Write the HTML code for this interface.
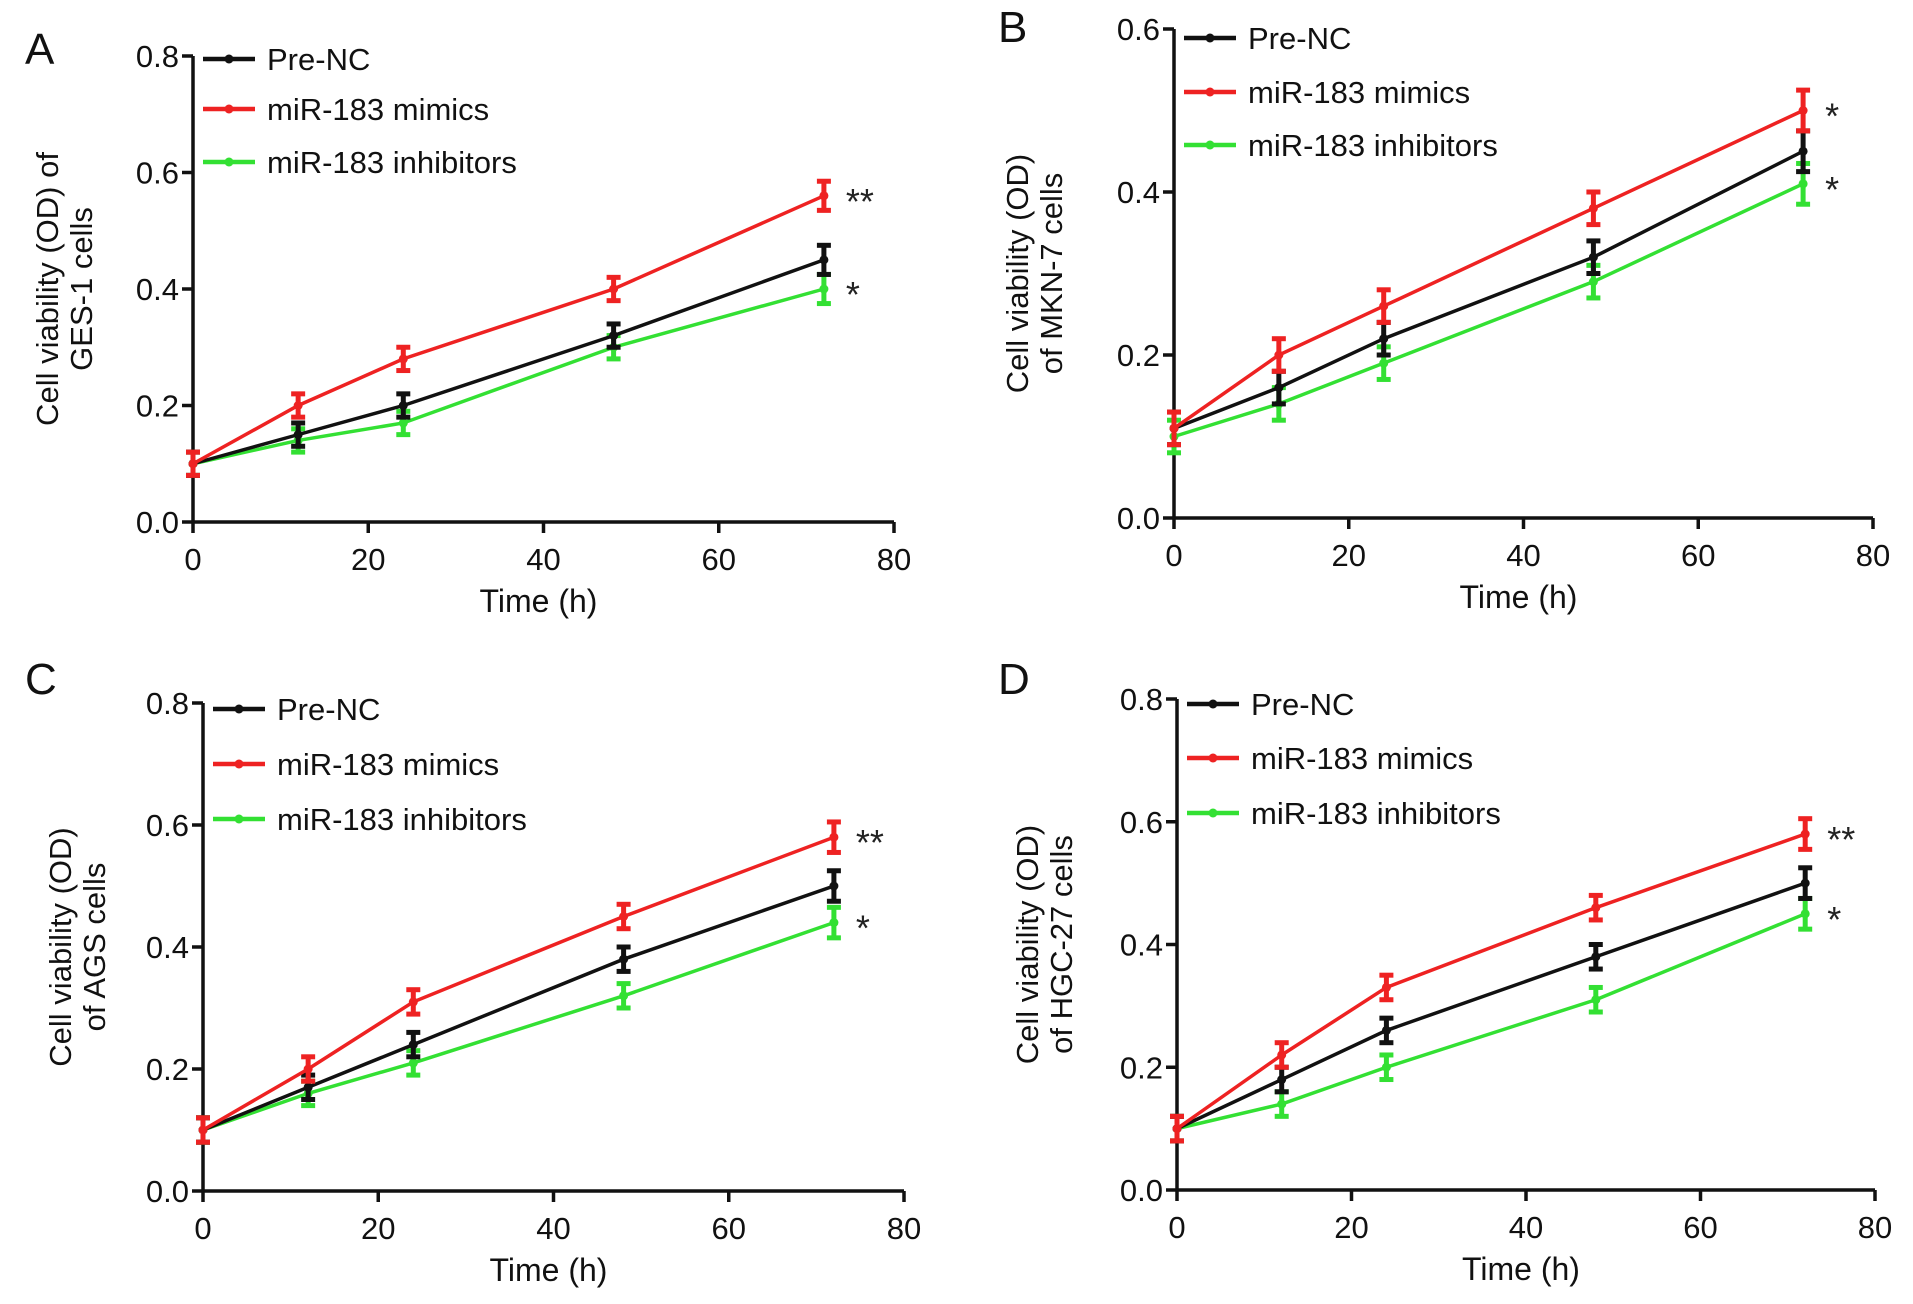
<!DOCTYPE html>
<html><head><meta charset="utf-8"><style>
html,body{margin:0;padding:0;background:#fff;}
svg{display:block;font-family:"Liberation Sans",Arial,sans-serif;}
</style></head><body>
<svg id="fig" width="1913" height="1304" viewBox="0 0 1913 1304"></svg>
<script>
const times = [0, 12, 24, 48, 72];
const xTicks = [0, 20, 40, 60, 80];
const seriesNames = ["Pre-NC", "miR-183 mimics", "miR-183 inhibitors"];
const seriesColors = ["#111111", "#ee2222", "#33e033"];
const aBlack = [0.10, 0.15, 0.20, 0.32, 0.45];
const aRed = [0.10, 0.20, 0.28, 0.40, 0.56];
const aGreen = [0.10, 0.14, 0.17, 0.30, 0.40];
const bBlack = [0.11, 0.16, 0.22, 0.32, 0.45];
const bRed = [0.11, 0.20, 0.26, 0.38, 0.50];
const bGreen = [0.10, 0.14, 0.19, 0.29, 0.41];
const cBlack = [0.10, 0.17, 0.24, 0.38, 0.50];
const cRed = [0.10, 0.20, 0.31, 0.45, 0.58];
const cGreen = [0.10, 0.16, 0.21, 0.32, 0.44];
const dBlack = [0.10, 0.18, 0.26, 0.38, 0.50];
const dRed = [0.10, 0.22, 0.33, 0.46, 0.58];
const dGreen = [0.10, 0.14, 0.20, 0.31, 0.45];
const errA = [0.02, 0.02, 0.02, 0.02, 0.025];
const yTicks8 = [0.0, 0.2, 0.4, 0.6, 0.8];
const yTicks6 = [0.0, 0.2, 0.4, 0.6];
const starsA = ["**", "*"], starsB = ["*", "*"], starsC = ["**", "*"], starsD = ["**", "*"];

const NS = "http://www.w3.org/2000/svg";
const svg = document.getElementById("fig");
function mk(tag, attrs, parent, text) {
  const e = document.createElementNS(NS, tag);
  for (const k in attrs) e.setAttribute(k, attrs[k]);
  if (text !== undefined) e.textContent = text;
  (parent || svg).appendChild(e);
  return e;
}

const panels = [
  {id:"a", letter:"A", lx:25, ly:64, x0:193, x1:894, y0:522, yTop:56, yMax:0.8, yt:yTicks8, data:[aBlack,aRed,aGreen], stars:starsA, title:["Cell viability (OD) of","GES-1 cells"], tx:58, legY:[59,109,162]},
  {id:"b", letter:"B", lx:998, ly:42, x0:1174, x1:1873, y0:518, yTop:29, yMax:0.6, yt:yTicks6, data:[bBlack,bRed,bGreen], stars:starsB, title:["Cell viability (OD)","of MKN-7 cells"], tx:1028, legY:[38,92,145]},
  {id:"c", letter:"C", lx:25, ly:694, x0:203, x1:904, y0:1191, yTop:703, yMax:0.8, yt:yTicks8, data:[cBlack,cRed,cGreen], stars:starsC, title:["Cell viability (OD)","of AGS cells"], tx:71, legY:[709,764,819]},
  {id:"d", letter:"D", lx:998, ly:694, x0:1177, x1:1875, y0:1190, yTop:699, yMax:0.8, yt:yTicks8, data:[dBlack,dRed,dGreen], stars:starsD, title:["Cell viability (OD)","of HGC-27 cells"], tx:1038, legY:[704,758,813]}
];

panels.forEach(p => {
  const g = mk("g", {});
  
  
  const X = v => p.x0 + (v / 80) * (p.x1 - p.x0);
  const Y = v => p.y0 - (v / p.yMax) * (p.y0 - p.yTop);
  const lt = mk("text", {x:p.lx, y:p.ly, "font-size":44, fill:"#111"}, g, p.letter);
  
  
  const ya = mk("line", {x1:p.x0, y1:p.y0, x2:p.x0, y2:p.yTop, stroke:"#111", "stroke-width":3.5}, g);
  
  
  const xa = mk("line", {x1:p.x0, y1:p.y0, x2:p.x1, y2:p.y0, stroke:"#111", "stroke-width":3.5}, g);
  
  
  p.yt.forEach(t => {
    mk("line", {x1:p.x0-11, y1:Y(t), x2:p.x0, y2:Y(t), stroke:"#111", "stroke-width":3.5}, g);
    const tl = mk("text", {x:p.x0-14, y:Y(t)+11, "font-size":31, "text-anchor":"end", fill:"#111"}, g, t.toFixed(1));
    
    
  });
  xTicks.forEach(t => {
    mk("line", {x1:X(t), y1:p.y0, x2:X(t), y2:p.y0+11, stroke:"#111", "stroke-width":3.5}, g);
    const tl = mk("text", {x:X(t), y:p.y0+48, "font-size":31, "text-anchor":"middle", fill:"#111"}, g, String(t));
    
    
  });
  const xt = mk("text", {x:(p.x0+p.x1)/2 - 5, y:p.y0+90, "font-size":32, "text-anchor":"middle", fill:"#111"}, g, "Time (h)");
  
  
  const cy = (p.y0 + p.yTop) / 2;
  const yt = mk("text", {transform:"translate(" + p.tx + "," + cy + ") rotate(-90)", "font-size":31, "text-anchor":"middle", fill:"#111"}, g);
  
  
  mk("tspan", {x:0, dy:0}, yt, p.title[0]);
  mk("tspan", {x:0, dy:34}, yt, p.title[1]);
  [2,0,1].forEach(si => {
    const vals = p.data[si], col = seriesColors[si];
    const sg = mk("g", {}, g);
    
    
    const pts = vals.map((v,i) => X(times[i]) + "," + Y(v)).join(" ");
    mk("polyline", {points:pts, fill:"none", stroke:col, "stroke-width":3.5}, sg);
    vals.forEach((v,i) => {
      const x = X(times[i]), e = errA[i];
      mk("line", {x1:x, y1:Y(v+e), x2:x, y2:Y(v-e), stroke:col, "stroke-width":5}, sg);
      mk("line", {x1:x-7, y1:Y(v+e), x2:x+7, y2:Y(v+e), stroke:col, "stroke-width":5}, sg);
      mk("line", {x1:x-7, y1:Y(v-e), x2:x+7, y2:Y(v-e), stroke:col, "stroke-width":5}, sg);
      const pt = mk("circle", {cx:x, cy:Y(v), r:4.5, fill:col}, sg);
      
      
    });
  });
  const lastX = X(times[4]);
  const s1 = mk("text", {x:lastX+22, y:Y(p.data[1][4])+18, "font-size":36, fill:"#222"}, g, p.stars[0]);
  
  
  const s2 = mk("text", {x:lastX+22, y:Y(p.data[2][4])+18, "font-size":36, fill:"#222"}, g, p.stars[1]);
  
  
  seriesNames.forEach((n, i) => {
    const lg = mk("g", {}, g);
    
    
    const y = p.legY[i];
    mk("line", {x1:p.x0+10, y1:y, x2:p.x0+62, y2:y, stroke:seriesColors[i], "stroke-width":4.5}, lg);
    mk("circle", {cx:p.x0+36, cy:y, r:4.5, fill:seriesColors[i]}, lg);
    mk("text", {x:p.x0+74, y:y+11, "font-size":31, fill:"#111"}, lg, n);
  });
});
</script>
</body></html>
